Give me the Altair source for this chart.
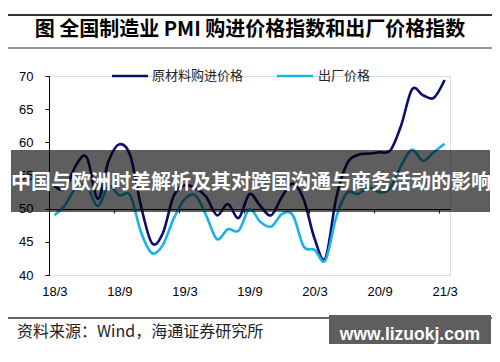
import altair as alt
import pandas as pd

# ---------------- data ----------------
months = ["18/3", "18/4", "18/5", "18/6", "18/7", "18/8", "18/9", "18/10", "18/11", "18/12",
          "19/1", "19/2", "19/3", "19/4", "19/5", "19/6", "19/7", "19/8", "19/9", "19/10",
          "19/11", "19/12", "20/1", "20/2", "20/3", "20/4", "20/5", "20/6", "20/7", "20/8",
          "20/9", "20/10", "20/11", "20/12", "21/1", "21/2", "21/3"]
purchase = [53.4, 53.0, 56.6, 57.7, 51.5, 57.2, 59.7, 58.0, 50.3, 44.8,
            46.3, 51.9, 53.5, 53.1, 51.8, 49.0, 50.7, 48.6, 52.2, 50.4,
            49.0, 51.8, 53.8, 51.4, 45.5, 42.5, 51.6, 56.8, 58.1, 58.3,
            58.5, 58.8, 62.6, 68.0, 67.1, 66.7, 69.4]
output = [49.0, 50.6, 53.2, 53.3, 50.4, 53.4, 52.0, 52.0, 46.4, 43.3,
          44.5, 48.5, 51.4, 52.0, 49.0, 45.4, 46.9, 46.7, 49.9, 48.0,
          47.3, 49.2, 49.0, 44.3, 43.8, 42.2, 48.7, 52.4, 52.2, 53.2,
          52.5, 53.1, 56.5, 58.9, 57.2, 58.5, 59.8]
series_names = ["原材料购进价格", "出厂价格"]
tick_labels = ["18/3", "18/9", "19/3", "19/9", "20/3", "20/9", "21/3"]
y_ticks = [40, 45, 50, 55, 60, 65, 70]
title_text = "图  全国制造业 PMI 购进价格指数和出厂价格指数"
banner_text = "中国与欧洲时差解析及其对跨国沟通与商务活动的影响"
source_text = "资料来源：Wind，海通证券研究所"
watermark_text = "www.lizuokj.com"

# ---------------- build table ----------------
rows = []
for i, m in enumerate(months):
    rows.append({"idx": i, "month": m, "series": series_names[0], "value": purchase[i]})
    rows.append({"idx": i, "month": m, "series": series_names[1], "value": output[i]})
df = pd.DataFrame(rows)

label_idx = [months.index(t) for t in tick_labels]
boundary_idx = [v - 0.5 for v in label_idx]
label_expr = "{" + ",".join(f"'{v}':'{t}'" for v, t in zip(label_idx, tick_labels)) + "}[datum.value]"

NAVY = "#0d0d70"
SKY = "#1ab2e8"
CJK = "Noto Sans CJK SC"
LAT = "Liberation Sans"

xscale = alt.Scale(domain=[-0.5, len(months) - 0.5], nice=False, zero=False)
yscale = alt.Scale(domain=[40, 70], nice=False, zero=False)
yaxis = alt.Axis(values=y_ticks, title=None, grid=False, domainColor="black", tickColor="black",
                 tickSize=4, labelPadding=12, labelFont=LAT, labelFontSize=13, labelColor="black")

base = alt.Chart(df)

lines = base.mark_line(interpolate="cardinal", strokeWidth=2.6).encode(
    x=alt.X("idx:Q", scale=xscale,
            axis=alt.Axis(values=label_idx, labelExpr=label_expr, orient="bottom", title=None,
                          grid=False, domain=False, ticks=False, labelPadding=10, labelFont=LAT,
                          labelFontSize=13, labelColor="black")),
    y=alt.Y("value:Q", scale=yscale, axis=yaxis),
    color=alt.Color("series:N", scale=alt.Scale(domain=series_names, range=[NAVY, SKY]), legend=None),
)

axis_line = base.mark_line(opacity=0).encode(
    x=alt.X("idx:Q", scale=xscale,
            axis=alt.Axis(values=boundary_idx, orient="bottom", offset=-66, labels=False, title=None,
                          grid=False, domainColor="black", tickColor="black", tickSize=4)),
    y=alt.Y("value:Q", scale=yscale, axis=yaxis),
    detail="series:N",
)

one = alt.Data(values=[{"a": 1}])

def hrule(x1, x2, y, w, c="#333333"):
    return alt.Chart(one).mark_rule(color=c, strokeWidth=w).encode(
        x=alt.value(x1), x2=alt.value(x2), y=alt.value(y))

def txt(x, y, s, size, font=CJK, weight="normal", color="black", align="center"):
    return alt.Chart(one).mark_text(font=font, fontSize=size, fontWeight=weight, color=color,
                                    align=align, baseline="middle").encode(
        x=alt.value(x), y=alt.value(y), text=alt.value(s))

def rect(x1, x2, y1, y2, color, opacity=1.0):
    return alt.Chart(one).mark_rect(color=color, opacity=opacity).encode(
        x=alt.value(x1), x2=alt.value(x2), y=alt.value(y1), y2=alt.value(y2))

top_rule = hrule(-41, 443, -61, 2)
title_rule = hrule(-41, 443, -28, 1.2)
title = txt(201, -46, title_text, 20, weight="bold")

leg1 = alt.Chart(one).mark_rule(color=NAVY, strokeWidth=2.6).encode(
    x=alt.value(63), x2=alt.value(99), y=alt.value(0))
leg1t = txt(103, 0, series_names[0], 13, color="#222222", align="left")
leg2 = alt.Chart(one).mark_rule(color=SKY, strokeWidth=2.6).encode(
    x=alt.value(228), x2=alt.value(264), y=alt.value(0))
leg2t = txt(269, 0, series_names[1], 13, color="#222222", align="left")

banner = rect(-38, 441, 74, 136, "black", 0.63)
banner_t = txt(202, 107, banner_text, 20, weight="bold", color="white")

bottom_rule = hrule(-41, 443, 242, 1.6)
source = txt(-32, 256, source_text, 16, color="#222222", align="left")

wm_box = rect(280, 442, 239, 270, "#5e5e5e")
wm_strip = rect(280, 442, 270, 277, "#0a0a0a")
wm_t = txt(361, 259, watermark_text, 17.5, font=LAT, weight="bold", color="white")

chart = alt.layer(
    axis_line, lines, top_rule, title_rule, title, leg1, leg1t, leg2, leg2t,
    banner, banner_t, bottom_rule, source, wm_box, wm_strip, wm_t
).resolve_axis(x="independent").properties(
    width=401, height=199,
    padding={"left": 41, "top": 68, "right": 42, "bottom": 69},
    autosize=alt.AutoSizeParams(type="none"),
).configure_view(stroke=None).configure(background="white")

chart.save("out.html", embed_options={"renderer": "svg", "actions": False})
